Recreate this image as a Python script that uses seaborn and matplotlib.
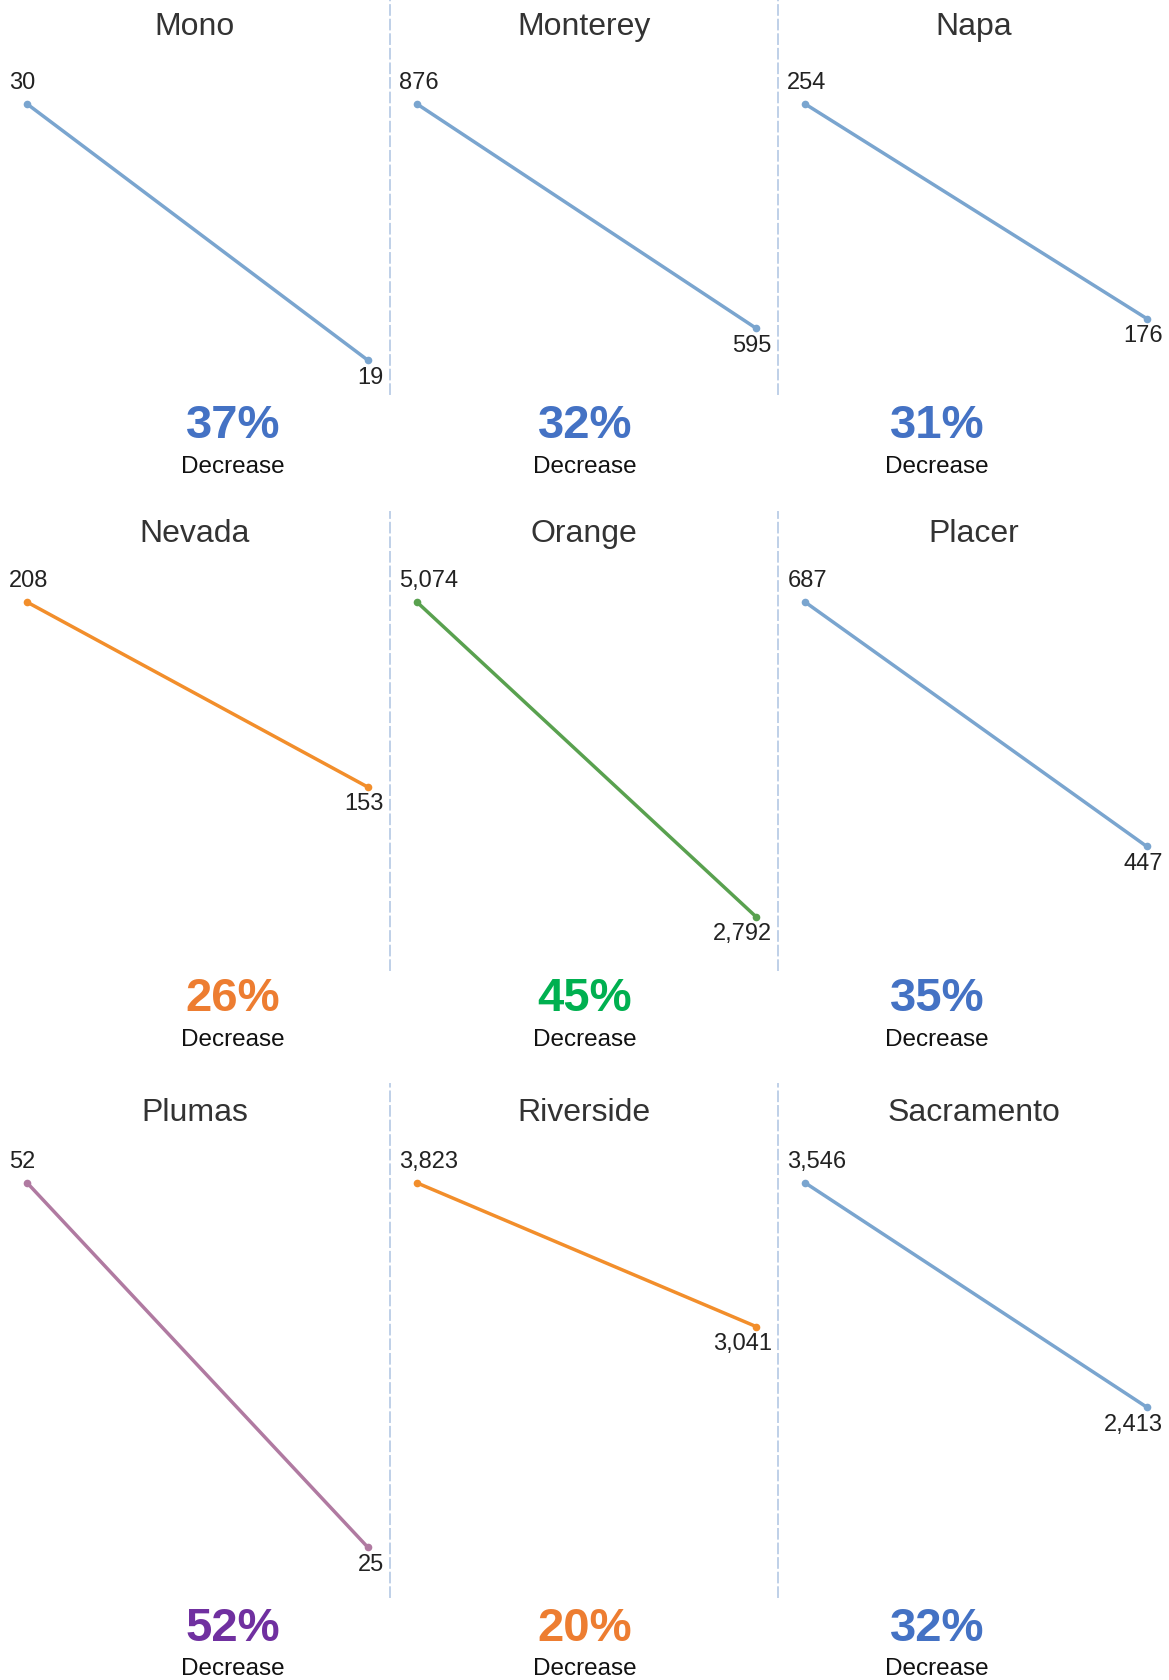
import matplotlib
matplotlib.use('Agg')
import matplotlib.pyplot as plt
import seaborn as sns
import pandas as pd

# County values (first and last period)
counties = ['Mono', 'Monterey', 'Napa',
            'Nevada', 'Orange', 'Placer',
            'Plumas', 'Riverside', 'Sacramento']
start_vals = [30, 876, 254, 208, 5074, 687, 52, 3823, 3546]
end_vals = [19, 595, 176, 153, 2792, 447, 25, 3041, 2413]
groups = ['blue', 'blue', 'blue',
          'orange', 'green', 'blue',
          'purple', 'orange', 'blue']

line_colors = {'blue': '#7aa5cf', 'orange': '#f28e2b', 'green': '#59a14f', 'purple': '#b07aa1'}
pct_colors = {'blue': '#4472c4', 'orange': '#ed7d31', 'green': '#00b050', 'purple': '#7030a0'}

sns.set_style('white')
plt.rcParams['font.family'] = ['Liberation Sans', 'DejaVu Sans']

W, H = 1169, 1680
fig = plt.figure(figsize=(W / 100, H / 100), dpi=100)

# layout in pixels
row_box = [(0, 394, (58.5, 114.9)), (512, 970, (47.4, 112.9)), (1084, 1597, (41.0, 114.1))]
col_box = [(0, 390), (390, 778), (778, 1169)]
title_y = [27, 534, 1113]
pct_y = [426, 999, 1629]
dec_y = [467, 1040, 1669]
pct_x = [233, 585, 937]

for i, name in enumerate(counties):
    r, c = divmod(i, 3)
    top, bot, ylim = row_box[r]
    left, right = col_box[c]
    ax = fig.add_axes([left / W, 1 - bot / H, (right - left) / W, (bot - top) / H])
    ax.set_facecolor('none')

    df = pd.DataFrame({'period': [0, 1],
                       'index': [100, end_vals[i] / start_vals[i] * 100]})
    col = line_colors[groups[i]]
    sns.lineplot(data=df, x='period', y='index', ax=ax, color=col, linewidth=2.5,
                 marker='o', markersize=5.5, markeredgewidth=0)
    ax.set_xlim(-0.08, 1.065)
    ax.set_ylim(*ylim)
    ax.set_xticks([])
    ax.set_yticks([])
    ax.set_xlabel('')
    ax.set_ylabel('')
    for s in ['top', 'left', 'bottom']:
        ax.spines[s].set_visible(False)
    if c < 2:
        ax.spines['right'].set_color('#bfd0e8')
        ax.spines['right'].set_linestyle((0, (5, 2.5)))
        ax.spines['right'].set_linewidth(1.4)
    else:
        ax.spines['right'].set_visible(False)

    ax.annotate(f'{start_vals[i]:,}', (0, 100), xytext=(-13, 15), textcoords='offset points',
                ha='left', va='center', fontsize=17, color='#222222')
    ax.annotate(f'{end_vals[i]:,}', (1, df['index'][1]), xytext=(11.5, -12.5),
                textcoords='offset points', ha='right', va='center', fontsize=17, color='#222222')

    fig.text((left + right) / 2 / W, 1 - title_y[r] / H, name, ha='center', va='center',
             fontsize=23, color='#333333')

    pct = round((1 - end_vals[i] / start_vals[i]) * 100)
    fig.text(pct_x[c] / W, 1 - pct_y[r] / H, f'{pct}%', ha='center', va='center',
             fontsize=34, fontweight='bold', color=pct_colors[groups[i]])
    fig.text(pct_x[c] / W, 1 - dec_y[r] / H, 'Decrease', ha='center', va='center',
             fontsize=17.5, color='#111111')

fig.savefig('out.png', dpi=100)
